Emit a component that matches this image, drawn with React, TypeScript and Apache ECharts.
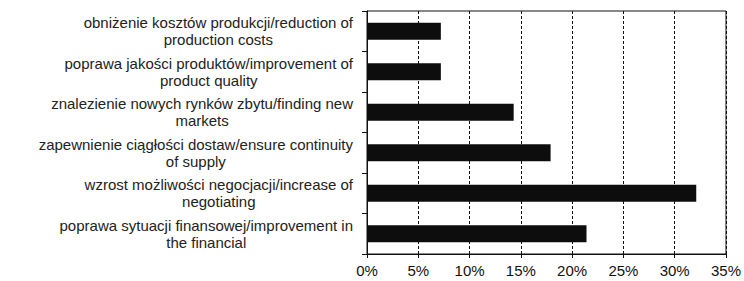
import React, { useEffect, useRef } from "react";
import * as echarts from "echarts";

const categoriesPl = [
  "obniżenie kosztów produkcji/reduction of",
  "poprawa jakości produktów/improvement of",
  "znalezienie nowych rynków zbytu/finding new",
  "zapewnienie ciągłości dostaw/ensure continuity",
  "wzrost możliwości negocjacji/increase of",
  "poprawa sytuacji finansowej/improvement in",
];
const categoriesEn = [
  "production costs",
  "product quality",
  "markets",
  "of supply",
  "negotiating",
  "the financial",
];
const values = [7.2, 7.2, 14.3, 17.9, 32.1, 21.4];
const xTicks = [0, 5, 10, 15, 20, 25, 30, 35];

export default function App() {
  const ref = useRef<HTMLDivElement>(null);
  useEffect(() => {
    if (!ref.current) return;
    const chart = echarts.init(ref.current, undefined, { renderer: "svg" });
    const cats = categoriesPl.map((p, i) => p + "\n" + categoriesEn[i]);
    chart.setOption({
      animation: false,
      grid: {
        left: 367,
        right: 18,
        top: 11,
        bottom: 27,
        show: true,
        borderColor: "#111",
        borderWidth: 1,
        containLabel: false,
      },
      xAxis: {
        type: "value",
        min: xTicks[0],
        max: xTicks[xTicks.length - 1],
        interval: 5,
        axisLine: { show: true, lineStyle: { color: "#111", width: 1 } },
        axisTick: { show: true, length: 4, lineStyle: { color: "#111" } },
        axisLabel: {
          formatter: (v: number) => v + "%",
          color: "#111",
          fontFamily: "Liberation Sans, Arial, sans-serif",
          fontSize: 15,
          margin: 9,
        },
        splitLine: { show: true, lineStyle: { color: "#111", type: [3, 2], width: 1 } },
      },
      yAxis: {
        type: "category",
        inverse: true,
        data: cats,
        axisLine: { show: true, lineStyle: { color: "#111", width: 1 } },
        axisTick: { show: true, length: 5, lineStyle: { color: "#111" } },
        axisLabel: {
          margin: 14,
          align: "right",
          formatter: (v: string) => {
            const parts = v.split("\n");
            return parts.map((s) => "{a|" + s + "}").join("\n");
          },
          rich: {
            a: {
              align: "center",
              color: "#222",
              fontFamily: "Liberation Sans, Arial, sans-serif",
              fontSize: 15,
              lineHeight: 17,
            },
          },
        },
      },
      series: [
        {
          type: "bar",
          data: values,
          barCategoryGap: "58%",
          itemStyle: { color: "#0d0d0d" },
        },
      ],
    });
    return () => chart.dispose();
  }, []);
  return (
    <div
      ref={ref}
      style={{ position: "absolute", left: 0, top: 0, width: 744, height: 281 }}
    />
  );
}
